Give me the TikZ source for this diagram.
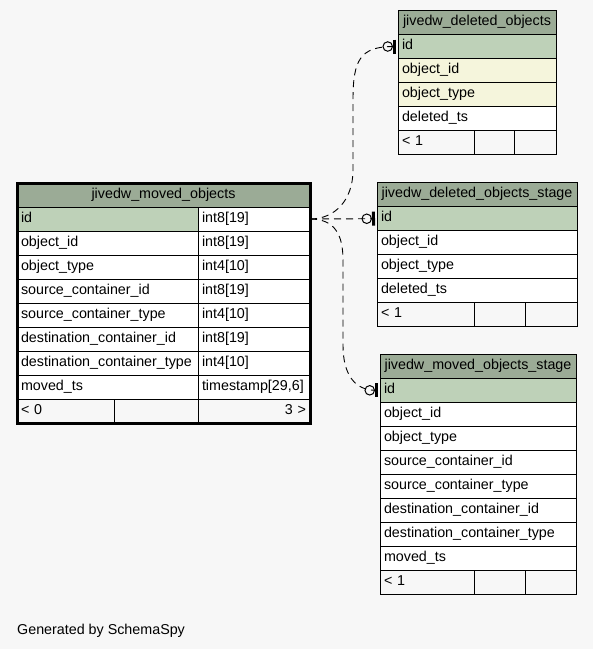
\documentclass[tikz,border=0pt]{standalone}
\usepackage{fontspec}
\setmainfont{Liberation Sans}
\definecolor{bg}{HTML}{F7F7F7}
\definecolor{hdrc}{HTML}{9BAB96}
\definecolor{keyc}{HTML}{BED1B8}
\definecolor{idxc}{HTML}{F5F5DC}
\usetikzlibrary{arrows.meta}
\newcommand\tabfont{\fontsize{14.3}{16}\selectfont}
\tikzset{
  cell/.style={draw=black,line width=0.8pt,anchor=north west,outer sep=0pt,minimum height=24pt,
    inner xsep=4pt,inner ysep=0pt,text height=10pt,text depth=4pt,align=left,font=\tabfont},
  hdr/.style={cell,fill=hdrc,align=center},
  keyrow/.style={cell,fill=keyc},
  idxrow/.style={cell,fill=idxc},
  plain/.style={cell,fill=white},
  foot/.style={cell,fill=bg},
  rel/.style={draw=black,line width=0.9pt,dash pattern=on 7pt off 5pt,shorten >=2pt,
    -{Circle[open,length=10.5pt,width=10.5pt,line width=1pt]Bar[width=14pt,line width=3pt]}},
}
\begin{document}
\begin{tikzpicture}[x=1pt,y=-1pt]
\fill[bg] (0,0) rectangle (593,649);
\useasboundingbox (0,0) rectangle (593,649);
% jivedw_moved_objects
\node[hdr,text width=285pt] (mo) at (17,183) {jivedw\_moved\_objects};
\node[keyrow,text width=173pt] (moid) at (17,207) {id};
\node[plain,text width=104pt] (moidt) at (198,207) {int8[19]};
\foreach \n/\t [count=\i] in {object\_id/int8[19],object\_type/int4[10],source\_container\_id/int8[19],
  source\_container\_type/int4[10],destination\_container\_id/int8[19],destination\_container\_type/int4[10],
  moved\_ts/{timestamp[29,6]}}{
  \node[plain,text width=173pt] (mo\i) at (17,{207+24*\i}) {\n};
  \node[plain,text width=104pt] (mo\i t) at (198,{207+24*\i}) {\t};
}
\node[foot,text width=89pt] (mofa) at (17,399) {< 0};
\node[foot,text width=76pt] (mofb) at (114,399) {};
\node[foot,text width=104pt,align=right] (mofc) at (198,399) {3 >};
\draw[line width=3pt] (mo.north west) rectangle (mofc.south east);
% jivedw_deleted_objects
\node[hdr,text width=150pt] (do) at (398,10.5) {jivedw\_deleted\_objects};
\node[keyrow,text width=150pt] (doid) at (398,34.5) {id};
\node[idxrow,text width=150pt] (do1) at (398,58.5) {object\_id};
\node[idxrow,text width=150pt] (do2) at (398,82.5) {object\_type};
\node[plain,text width=150pt] (do3) at (398,106.5) {deleted\_ts};
\node[foot,text width=68pt] (dofa) at (398,130.5) {< 1};
\node[foot,text width=32pt] (dofb) at (474,130.5) {};
\node[foot,text width=34pt] (dofc) at (514,130.5) {};
% jivedw_deleted_objects_stage
\node[hdr,text width=192pt] (ds) at (377,182.7) {jivedw\_deleted\_objects\_stage};
\node[keyrow,text width=192pt] (dsid) at (377,206.7) {id};
\foreach \n [count=\i] in {object\_id,object\_type,deleted\_ts}
  \node[plain,text width=192pt] (ds\i) at (377,{206.7+24*\i}) {\n};
\node[foot,text width=89pt] (dsfa) at (377,302.7) {< 1};
\node[foot,text width=43pt] (dsfb) at (474,302.7) {};
\node[foot,text width=44pt] (dsfc) at (525,302.7) {};
% jivedw_moved_objects_stage
\node[hdr,text width=188pt] (ms) at (380,354.3) {jivedw\_moved\_objects\_stage};
\node[keyrow,text width=188pt] (msid) at (380,378.3) {id};
\foreach \n [count=\i] in {object\_id,object\_type,source\_container\_id,source\_container\_type,
  destination\_container\_id,destination\_container\_type,moved\_ts}
  \node[plain,text width=188pt] (ms\i) at (380,{378.3+24*\i}) {\n};
\node[foot,text width=86pt] (msfa) at (380,570.3) {< 1};
\node[foot,text width=43pt] (msfb) at (474,570.3) {};
\node[foot,text width=43pt] (msfc) at (525,570.3) {};
% relations
\draw[rel] (moidt.east) .. controls (335,219) and (353,200) .. (353,170) -- (353,100)
  .. controls (353,60) and (360,46.5) .. (doid.west);
\draw[rel] (moidt.east) -- (dsid.west);
\draw[rel] (moidt.east) .. controls (335,219) and (343,235) .. (343,260) -- (343,345)
  .. controls (343,375) and (355,390.3) .. (msid.west);
\node[anchor=base west,inner sep=0pt,font=\tabfont] (gen) at (17,634) {Generated by SchemaSpy};
\end{tikzpicture}
\end{document}
